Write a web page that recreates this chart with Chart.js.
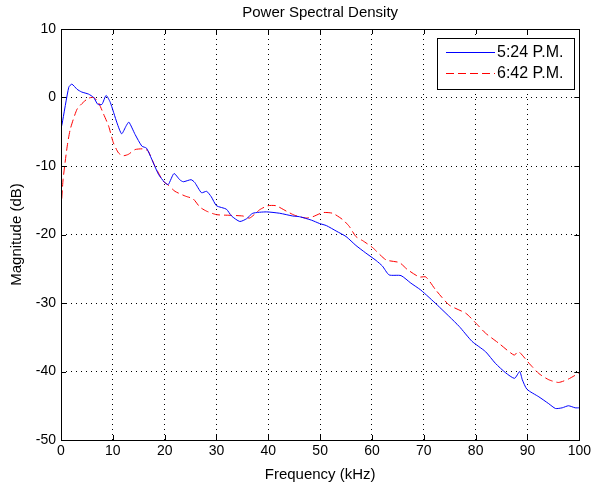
<!DOCTYPE html>
<html>
<head>
<meta charset="utf-8">
<script src="https://cdn.jsdelivr.net/npm/chart.js@4/dist/chart.umd.min.js"></script>
<style>
  html, body { margin: 0; padding: 0; background: #fff; }
  #wrap { width: 594px; height: 487px; position: relative; }
</style>
</head>
<body>
<div id="wrap"><canvas id="psd"></canvas></div>
<script>
/* ===== Datos ===== */
const CHART_TITLE = 'Power Spectral Density';
const X_TITLE = 'Frequency (kHz)';
const Y_TITLE = 'Magnitude (dB)';
const SERIES_NAMES = ['5:24 P.M.', '6:42 P.M.'];
const X_TICKS = [0, 10, 20, 30, 40, 50, 60, 70, 80, 90, 100];
const Y_TICKS = [-50, -40, -30, -20, -10, 0, 10];

const blueFreq = [0, 0.2, 1.5, 2.1, 3.1, 4, 5.3, 6.3, 7.1, 7.9, 8.7, 9.5, 10.8, 11.7, 12.6, 13.1,
  14.3, 15.6, 16.5, 17.5, 18.8, 20, 20.7, 21.8, 22.9, 23.6, 25.1, 25.8, 27.1, 28.1, 29, 30,
  31.9, 32.9, 34.5, 35.8, 37, 39.6, 42.2, 44.7, 46, 48.3, 49.9, 51.2, 53.1, 55, 56.9, 58.8,
  60.8, 62, 63.3, 65.6, 67.5, 69.4, 72.6, 76.8, 79.3, 81.9, 83.8, 85.8, 87.5, 88.5, 89,
  89.9, 92.2, 94.1, 95.4, 96.7, 97.9, 99.2, 100];
const blueMag = [-4.5, -3.9, 1.5, 1.95, 1.2, 0.8, 0.5, 0, -1, -1, 0.3, -0.7, -3.7, -5.3, -4.1, -3.6,
  -5.4, -7.1, -7.4, -9, -11.2, -12.4, -12.7, -11.1, -12, -12.3, -12, -12.4, -13.9, -13.7, -14.5, -15.8,
  -16.3, -17.3, -18.1, -17.7, -16.9, -16.7, -16.9, -17.3, -17.4, -17.9, -18.4, -18.7, -19.5, -20.3, -21.6, -22.7,
  -23.8, -24.6, -25.9, -26, -27.1, -28.1, -30.3, -33.4, -35.6, -37.1, -38.8, -40.2, -41, -40, -41.2,
  -42.6, -43.7, -44.7, -45.4, -45.3, -45, -45.3, -45.3];

const redFreq = [0, 0.4, 1.2, 1.8, 3.1, 4.3, 5.3, 6.3, 7.2, 8.2, 9.2, 10.1, 11.1, 12, 13, 14.3,
  15.9, 16.8, 18.1, 19.7, 20.7, 22, 24, 25.5, 26.8, 28.1, 30, 32.6, 35.1, 36.4, 38.3, 39.9,
  41.5, 43.5, 45.1, 47.3, 48.6, 50.5, 52.4, 54.3, 55.6, 56.9, 58.2, 60.1, 62.7, 65.3, 66.8,
  69.1, 70.4, 72.3, 74.9, 78.1, 80, 81.9, 84.5, 87.4, 88.3, 90.3, 92.2, 94.1, 96, 97.9, 100];
const redMag = [-16.5, -12, -7.1, -4.6, -1.7, -0.7, -0.1, 0, -0.7, -2.4, -4.2, -6.6, -8.1, -8.5, -8.3, -7.6,
  -7.5, -7.8, -10, -12.2, -12.8, -13.7, -14.4, -14.8, -16, -16.6, -17.1, -17.2, -17.3, -17.6, -16.4, -15.8,
  -15.8, -16.6, -17.2, -17.6, -17.4, -16.8, -16.9, -17.8, -18.8, -20.3, -20.9, -21.9, -23.7, -24.1, -25.1,
  -26.2, -26.2, -28.1, -30.3, -31.5, -32.9, -34.4, -35.9, -37.6, -37.1, -38.8, -40.3, -41.2, -41.6, -41.1, -40.2];

/* ===== Utilidades ===== */
const FONT = '"Liberation Sans", Arial, sans-serif';
const toPoints = (xs, ys) => xs.map((x, i) => ({ x, y: ys[i] }));

/* marco, ticks interiores, títulos y leyenda estilo MATLAB */
const matlabFrame = {
  id: 'matlabFrame',
  afterDraw(chart) {
    const { ctx, chartArea: a, scales: { x, y } } = chart;
    ctx.save();
    ctx.strokeStyle = '#000';
    ctx.lineWidth = 1;
    ctx.setLineDash([]);
    ctx.strokeRect(Math.round(a.left) + 0.5, Math.round(a.top) + 0.5,
      Math.round(a.right - a.left), Math.round(a.bottom - a.top));

    ctx.beginPath();
    X_TICKS.forEach(v => {
      const px = Math.round(x.getPixelForValue(v)) + 0.5;
      ctx.moveTo(px, a.bottom); ctx.lineTo(px, a.bottom - 5);
      ctx.moveTo(px, a.top); ctx.lineTo(px, a.top + 5);
    });
    Y_TICKS.forEach(v => {
      const py = Math.round(y.getPixelForValue(v)) + 0.5;
      ctx.moveTo(a.left, py); ctx.lineTo(a.left + 5, py);
      ctx.moveTo(a.right, py); ctx.lineTo(a.right - 5, py);
    });
    ctx.stroke();

    // títulos
    const cx = (a.left + a.right) / 2;
    ctx.fillStyle = '#000';
    ctx.font = '15px ' + FONT;
    ctx.textAlign = 'center';
    ctx.textBaseline = 'middle';
    ctx.fillText(CHART_TITLE, cx, 13);
    ctx.fillText(X_TITLE, cx, 475);
    ctx.save();
    ctx.translate(17, (a.top + a.bottom) / 2);
    ctx.rotate(-Math.PI / 2);
    ctx.fillText(Y_TITLE, 0, 0);
    ctx.restore();

    // leyenda
    const bx = 437, by = 38, bw = 137, bh = 51;
    ctx.fillStyle = '#fff';
    ctx.fillRect(bx, by, bw, bh);
    ctx.strokeStyle = '#000';
    ctx.strokeRect(bx + 0.5, by + 0.5, bw, bh);
    const rows = [
      { y: 52, color: '#0000ff', dash: [] },
      { y: 73, color: '#ff0000', dash: [8, 4] }
    ];
    rows.forEach((r, i) => {
      ctx.beginPath();
      ctx.strokeStyle = r.color;
      ctx.setLineDash(r.dash);
      ctx.moveTo(446, r.y + 0.5);
      ctx.lineTo(495, r.y + 0.5);
      ctx.stroke();
      ctx.setLineDash([]);
      ctx.fillStyle = '#000';
      ctx.textAlign = 'left';
      ctx.font = '16px ' + FONT;
      ctx.fillText(SERIES_NAMES[i], 497, r.y + 1);
    });
    ctx.restore();
  }
};

/* ===== Gráfica ===== */
new Chart(document.getElementById('psd'), {
  type: 'line',
  data: {
    datasets: [
      {
        label: SERIES_NAMES[0],
        data: toPoints(blueFreq, blueMag),
        borderColor: '#0000ff',
        borderWidth: 1,
        pointRadius: 0,
        tension: 0.2
      },
      {
        label: SERIES_NAMES[1],
        data: toPoints(redFreq, redMag),
        borderColor: '#ff0000',
        borderWidth: 1,
        borderDash: [8, 4],
        pointRadius: 0,
        tension: 0.2
      }
    ]
  },
  options: {
    responsive: true,
    maintainAspectRatio: false,
    animation: false,
    events: [],
    layout: { padding: { left: 0, right: 13, top: 29, bottom: 0 } },
    plugins: {
      legend: { display: false },
      title: { display: false },
      tooltip: { enabled: false }
    },
    scales: {
      x: {
        type: 'linear',
        min: 0,
        max: 100,
        afterBuildTicks(scale) { scale.ticks = X_TICKS.map(value => ({ value })); },
        afterFit(scale) { scale.height = 47; },
        border: { display: false, dash: [1, 4] },
        grid: {
          color: '#000',
          lineWidth: ctx => (ctx.tick && (ctx.tick.value === 0 || ctx.tick.value === 100)) ? 0 : 1,
          drawTicks: false
        },
        ticks: { color: '#000', font: { family: FONT, size: 14 }, padding: 3, maxRotation: 0 }
      },
      y: {
        type: 'linear',
        min: -50,
        max: 10,
        afterBuildTicks(scale) { scale.ticks = Y_TICKS.map(value => ({ value })); },
        afterFit(scale) { scale.width = 61; },
        border: { display: false, dash: [1, 4] },
        grid: {
          color: '#000',
          lineWidth: ctx => (ctx.tick && (ctx.tick.value === -50 || ctx.tick.value === 10)) ? 0 : 1,
          drawTicks: false
        },
        ticks: { color: '#000', font: { family: FONT, size: 14 }, padding: 5 }
      }
    }
  },
  plugins: [matlabFrame]
});
</script>
</body>
</html>
